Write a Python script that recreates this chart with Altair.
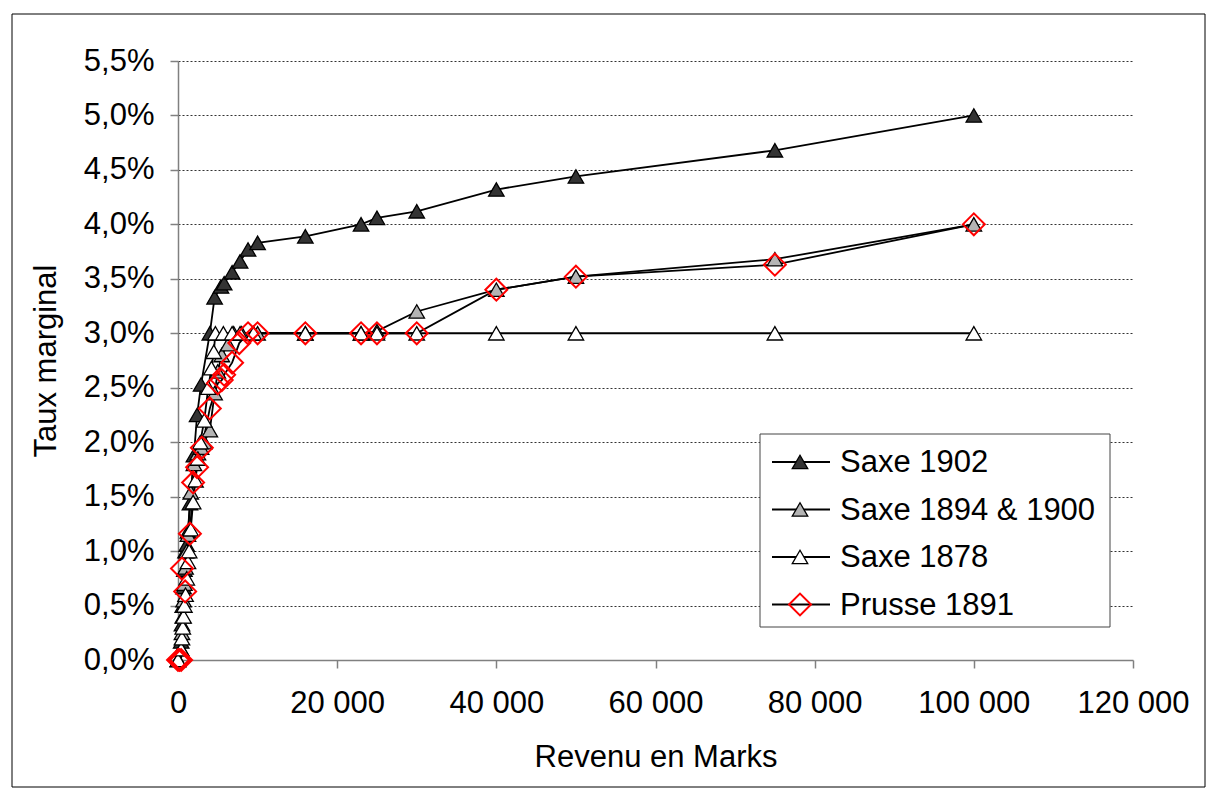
import altair as alt
import pandas as pd

series = ["Saxe 1902", "Saxe 1894 & 1900", "Saxe 1878", "Prusse 1891"]

x_1902 = [0, 400, 500, 600, 700, 800, 950, 1100, 1250, 1500, 2000, 2400, 2900, 4000, 4600,
          5400, 5800, 6800, 7800, 8800, 10000, 16000, 23000, 25000, 30000, 40000, 50000, 75000, 100000]
y_1902 = [0, 0.17, 0.33, 0.5, 0.67, 0.83, 1.0, 1.06, 1.18, 1.44, 1.88, 2.25, 2.53, 3.0, 3.33,
          3.43, 3.46, 3.56, 3.66, 3.77, 3.83, 3.89, 4.0, 4.06, 4.12, 4.32, 4.44, 4.68, 5.0]

x_1894 = [0, 400, 500, 600, 700, 800, 950, 1100, 1250, 1600, 2000, 2500, 2900, 3300, 4000,
          4600, 5000, 5500, 6300, 7000, 8000, 9500, 10000, 16000, 23000, 25000, 30000, 40000,
          50000, 75000, 100000]
y_1894 = [0, 0.1, 0.25, 0.4, 0.55, 0.7, 0.85, 1.0, 1.15, 1.54, 1.8, 1.9, 1.95, 2.0, 2.11,
          2.45, 2.65, 2.8, 2.9, 3.0, 3.0, 3.0, 3.0, 3.0, 3.0, 3.02, 3.2, 3.4,
          3.52, 3.68, 4.0]

x_1878 = [0, 400, 500, 600, 700, 800, 950, 1100, 1250, 1400, 1600, 1900, 2200, 2500, 2800,
          3300, 3800, 4200, 4500, 4700, 5700, 6800, 7800, 9500, 16000, 23000, 25000, 30000,
          40000, 50000, 75000, 100000]
y_1878 = [0, 0.1, 0.2, 0.3, 0.4, 0.5, 0.6, 0.75, 0.9, 1.0, 1.2, 1.45, 1.65, 1.85, 2.0,
          2.2, 2.5, 2.68, 2.83, 3.0, 3.0, 3.0, 3.0, 3.0, 3.0, 3.0, 3.0, 3.0,
          3.0, 3.0, 3.0, 3.0]

x_1891 = [0, 200, 400, 500, 900, 1500, 1900, 2400, 3000, 4000, 5000, 5500, 5800, 6800, 7700,
          8800, 10000, 16000, 23000, 25000, 30000, 40000, 50000, 75000, 100000]
y_1891 = [0, 0, 0, 0.84, 0.63, 1.16, 1.63, 1.77, 1.95, 2.31, 2.54, 2.57, 2.62, 2.73, 2.91,
          3.0, 3.0, 3.0, 3.0, 3.0, 3.0, 3.4, 3.52, 3.63, 4.0]

x_ticks = [0, 20000, 40000, 60000, 80000, 100000, 120000]
y_ticks = [0, 0.005, 0.01, 0.015, 0.02, 0.025, 0.03, 0.035, 0.04, 0.045, 0.05, 0.055]

rows = []
for name, xs, ys in [(series[0], x_1902, y_1902), (series[1], x_1894, y_1894),
                     (series[2], x_1878, y_1878), (series[3], x_1891, y_1891)]:
    for i, (a, b) in enumerate(zip(xs, ys)):
        rows.append({"serie": name, "revenu": a, "taux": b / 100.0, "k": i})
df = pd.DataFrame(rows)

FONT = "Liberation Sans"
FS = 31
W, H = 955, 599
YMAX = 0.055

shape_scale = alt.Scale(domain=series, range=["triangle-up", "triangle-up", "triangle-up", "diamond"])
fill_scale = alt.Scale(domain=series, range=["#333333", "#b4b4b4", "#ffffff", "transparent"])
stroke_scale = alt.Scale(domain=series, range=["#000000", "#000000", "#000000", "#ff0000"])
size_scale = alt.Scale(type="ordinal", domain=series, range=[240, 240, 240, 480])
sw_scale = alt.Scale(type="ordinal", domain=series, range=[1.3, 1.3, 1.3, 2])

x_enc = alt.X("revenu:Q",
              scale=alt.Scale(domain=[0, 120000], nice=False, zero=True),
              axis=alt.Axis(values=x_ticks, title="Revenu en Marks", grid=False,
                            labelExpr="replace(format(datum.value, ',d'), ',', ' ')",
                            labelOverlap=False, labelFlush=False,
                            labelPadding=20, titlePadding=24))
y_enc = alt.Y("taux:Q",
              scale=alt.Scale(domain=[0, YMAX], nice=False),
              axis=alt.Axis(values=y_ticks, title="Taux marginal", grid=True,
                            labelExpr="replace(format(datum.value, '.1%'), '.', ',')",
                            labelOverlap=False, labelFlush=False,
                            labelPadding=16, titlePadding=21))

base = alt.Chart(df)

lines = base.mark_line(color="black", strokeWidth=1.8).encode(
    x=x_enc, y=y_enc, detail="serie:N", order="k:Q")

def marker_enc():
    return dict(
        shape=alt.Shape("serie:N", scale=shape_scale, legend=None),
        fill=alt.Fill("serie:N", scale=fill_scale, legend=None),
        stroke=alt.Stroke("serie:N", scale=stroke_scale, legend=None),
        size=alt.Size("serie:N", scale=size_scale, legend=None),
        strokeWidth=alt.StrokeWidth("serie:N", scale=sw_scale, legend=None),
    )

points = base.mark_point(filled=True, opacity=1).encode(x=x_enc, y=y_enc, **marker_enc())

# outer frame of the chart area (decoration)
one = pd.DataFrame({"a": [0]})
frame = alt.Chart(one).mark_rect(fill="transparent", stroke="black", strokeWidth=1).encode(
    x=alt.value(-166), x2=alt.value(1027), y=alt.value(-47), y2=alt.value(726))

# manual legend (row position expressed in the y scale's units)
leg = pd.DataFrame({"serie": series, "i": list(range(len(series)))})
legbox = alt.Chart(one).mark_rect(fill="white", stroke="#444444", strokeWidth=1).encode(
    x=alt.value(582), x2=alt.value(932), y=alt.value(373), y2=alt.value(566))
legbase = alt.Chart(leg).transform_calculate(
    taux=f"{YMAX} * ({H} - (401 + datum.i * 47.5)) / {H}")
leg_y = alt.Y("taux:Q")
leg_lines = legbase.mark_rule(color="black", strokeWidth=1.8).encode(
    x=alt.value(594), x2=alt.value(652), y=leg_y)
leg_pts = legbase.mark_point(filled=True, opacity=1).encode(
    x=alt.value(622), y=leg_y, **marker_enc())
leg_txt = legbase.mark_text(align="left", baseline="middle", font=FONT, fontSize=FS,
                            color="black", dy=1).encode(
    x=alt.value(662), y=leg_y, text="serie:N")

chart = alt.layer(frame, lines, points, legbox, leg_lines, leg_pts, leg_txt).properties(
    width=W, height=H,
    autosize=alt.AutoSizeParams(type="none"),
    padding={"left": 178, "top": 61, "right": 82, "bottom": 129},
    background="white",
).configure_view(stroke="transparent").configure_axis(
    labelFont=FONT, titleFont=FONT, labelFontSize=FS, titleFontSize=FS,
    titleFontWeight="normal", labelColor="black", titleColor="black",
    domainColor="#808080", domainWidth=1.5, tickColor="#808080", tickSize=8, tickWidth=1.5,
    gridColor="#333333", gridDash=[2, 2], gridWidth=1,
)

chart.save("out.html", embed_options={"renderer": "svg", "actions": False})
